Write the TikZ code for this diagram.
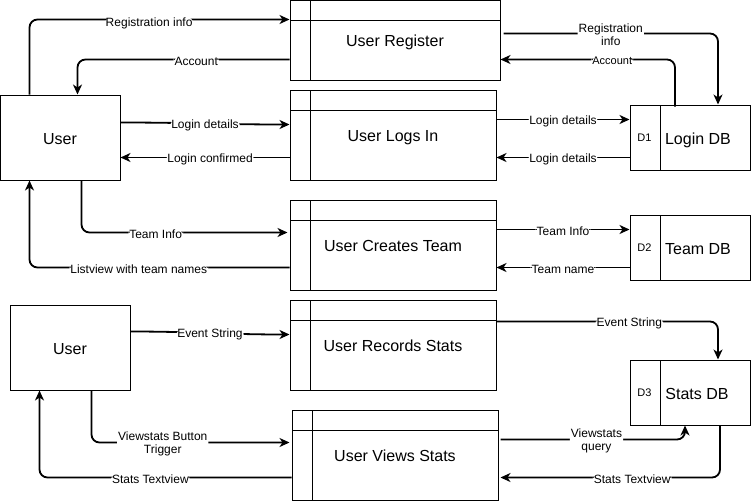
\documentclass[tikz,border=0pt]{standalone}
\usepackage{fontspec}
\setmainfont{Liberation Sans}
\usetikzlibrary{arrows.meta}

\begin{document}
\begin{tikzpicture}[
  x=1pt, y=-1pt,
  every node/.style={font=\fontsize{16}{19}\selectfont},
  process/.style={draw, line width=1pt, inner sep=0pt, minimum width=206pt, minimum height=90pt,
    text height=12.5pt, text depth=0pt,
    path picture={
      \draw[line width=1pt] ([yshift=-20pt]path picture bounding box.north west) -- ([yshift=-20pt]path picture bounding box.north east);
      \draw[line width=1pt] ([xshift=20pt]path picture bounding box.north west) -- ([xshift=20pt]path picture bounding box.south west);
    }},
  entity/.style={draw, line width=1pt, inner sep=0pt, minimum width=120pt, minimum height=85pt,
    text height=13pt, text depth=0pt},
  store/.style={draw, line width=1pt, inner sep=0pt, minimum width=120pt, minimum height=65pt,
    text height=13pt, text depth=0pt,
    label={[storeid]180:#1},
    path picture={
      \draw[line width=1pt] ([xshift=30pt]path picture bounding box.north west) -- ([xshift=30pt]path picture bounding box.south west);
    }},
  storeid/.style={anchor=center, xshift=15pt, inner sep=0pt, font=\fontsize{11}{13}\selectfont},
  flow/.style={line width=1.8pt, rounded corners=8pt, -{Stealth[length=10pt, width=9pt, inset=3pt]}},
  lbl/.style={fill=white, inner sep=1pt, align=center, yshift=-1.5pt, font=\fontsize{12}{13}\selectfont},
  small lbl/.style={lbl, font=\fontsize{11}{12}\selectfont}
]
\useasboundingbox (0,0) rectangle (751,501);

% processes
\node[process, minimum width=210pt, minimum height=80pt] (reg) at (395,40) {User Register};
\node[process] (login) at (393,135) {User Logs In};
\node[process] (team) at (393,245) {User Creates Team};
\node[process] (rec) at (393,345) {User Records Stats};
\node[process] (view) at (395,455) {User Views Stats};

% external entities
\node[entity] (user) at (60,137.5) {User};
\node[entity] (userb) at (70,347.5) {User};

% data stores
\node[store=D1] (logindb) at (690,137.5) {\hspace*{16pt}Login DB};
\node[store=D2] (teamdb) at (690,247.5) {\hspace*{16pt}Team DB};
\node[store=D3] (statsdb) at (690,392.5) {\hspace*{14pt}Stats DB};

% user <-> register
\draw[flow] ([xshift=30pt]user.north west) |- ([yshift=-20pt]reg.north west) node[lbl, pos=.73, yshift=-2pt] {Registration info};
\draw[flow] ([yshift=-60pt]reg.north west) -| ([xshift=78pt]user.north west) node[lbl, pos=.22] {Account};
% register <-> login db
\draw[flow] ([xshift=3pt, yshift=-34pt]reg.north east) -| ([xshift=28pt]logindb.north) node[lbl, pos=.25] {Registration\\info};
\draw[flow] ([xshift=-15pt, yshift=-2pt]logindb.north) |- ([yshift=-60pt]reg.north east) node[small lbl, pos=.68] {Account};

% user <-> logs in
\draw[flow] ([yshift=-28pt]user.north east) to[out=0, in=180] node[lbl, pos=.5] {Login details} ([yshift=-35pt]login.north west);
\draw[flow] ([yshift=-68pt]login.north west) -- ([yshift=-63pt]user.north east) node[lbl, pos=.47] {Login confirmed};
\draw[flow] ([yshift=-30pt]login.north east) -- ([yshift=-15pt]logindb.north west) node[lbl, pos=.5] {Login details};
\draw[flow] ([yshift=-53pt]logindb.north west) -- ([yshift=-68pt]login.north east) node[lbl, pos=.5] {Login details};

% user <-> creates team
\draw[flow] ([xshift=82pt]user.south west) |- ([xshift=-2pt, yshift=-33pt]team.north west) node[lbl, pos=.68] {Team Info};
\draw[flow] ([yshift=-68pt]team.north west) -| ([xshift=30pt]user.south west) node[lbl, pos=.29] {Listview with team names};
\draw[flow] ([yshift=-30pt]team.north east) -- ([yshift=-15pt]teamdb.north west) node[lbl, pos=.5] {Team Info};
\draw[flow] ([yshift=-53pt]teamdb.north west) -- ([yshift=-68pt]team.north east) node[lbl, pos=.5] {Team name};

% user <-> records stats
\draw[flow] ([yshift=-27pt]userb.north east) to[out=0, in=180] node[lbl, pos=.5] {Event String} ([yshift=-35pt]rec.north west);
\draw[flow] ([yshift=-22pt]rec.north east) -| ([xshift=28pt]statsdb.north) node[lbl, pos=.3] {Event String};

% user <-> views stats
\draw[flow] ([xshift=82pt]userb.south west) |- ([xshift=-2pt, yshift=-33pt]view.north west) node[lbl, pos=.68] {Viewstats Button\\Trigger};
\draw[flow] ([yshift=-68pt]view.north west) -| ([xshift=30pt]userb.south west) node[lbl, pos=.28] {Stats Textview};
\draw[flow] ([xshift=2pt, yshift=-30pt]view.north east) -| ([xshift=-5pt]statsdb.south) node[lbl, pos=.26] {Viewstats\\query};
\draw[flow] ([xshift=30pt]statsdb.south) |- ([xshift=2pt, yshift=-68pt]view.north east) node[lbl, pos=.7] {Stats Textview};
\end{tikzpicture}
\end{document}
